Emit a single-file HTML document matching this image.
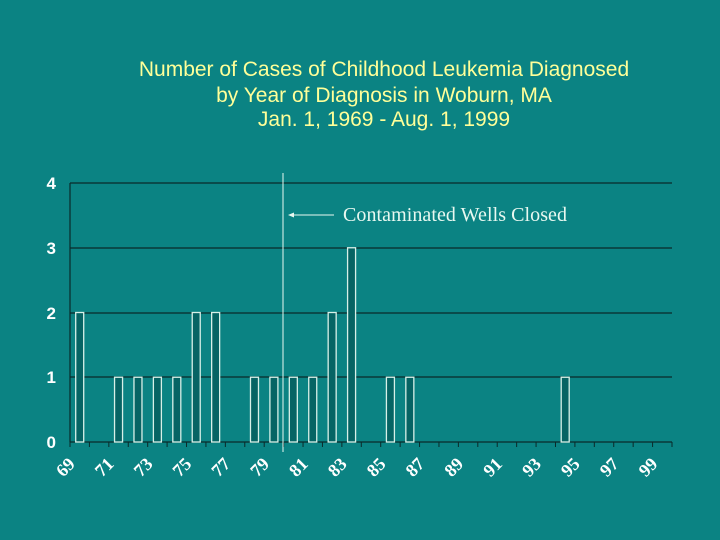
<!DOCTYPE html>
<html><head><style>
body{margin:0;background:#0b8383;}
</style></head><body>
<svg width="720" height="540" xmlns="http://www.w3.org/2000/svg" style="display:block">
<rect width="720" height="540" fill="#0b8383"/>
<g font-family="Liberation Sans, sans-serif" font-size="21" fill="#ffff99" text-anchor="middle">
<text x="384" y="76">Number of Cases of Childhood Leukemia Diagnosed</text>
<text x="384" y="102">by Year of Diagnosis in Woburn, MA</text>
<text x="384" y="126">Jan. 1, 1969 - Aug. 1, 1999</text>
</g>
<g stroke="#0a2a2a" stroke-width="1.2">
<line x1="70" y1="183" x2="672" y2="183"/>
<line x1="70" y1="248" x2="672" y2="248"/>
<line x1="70" y1="313" x2="672" y2="313"/>
<line x1="70" y1="377" x2="672" y2="377"/>
<line x1="70" y1="442" x2="672" y2="442"/>
<line x1="70" y1="183" x2="70" y2="442"/>
</g>
<g font-family="Liberation Sans, sans-serif" font-size="17" font-weight="bold" fill="#fff" text-anchor="end">
<text x="56" y="189">4</text><text x="56" y="254">3</text><text x="56" y="319">2</text><text x="56" y="383">1</text><text x="56" y="448">0</text>
</g>
<g id="bars" fill="#066464" stroke="#d8f0e8" stroke-width="1.3"></g>
<g id="ticks" stroke="#0a2a2a" stroke-width="1"></g>
<g id="labels" font-family="Liberation Serif, serif" font-size="18" font-weight="bold" fill="#fff"></g>
<line x1="283" y1="173" x2="283" y2="452" stroke="#e8f8f0" stroke-width="1"/>
<line x1="290" y1="215" x2="334" y2="215" stroke="#e8f8f0" stroke-width="1"/>
<polygon points="288,215 294,212.5 294,217.5" fill="#e8f8f0"/>
<text x="343" y="221" font-family="Liberation Serif, serif" font-size="20" fill="#e8f8f0" textLength="224">Contaminated Wells Closed</text>
</svg>
<script>
const ns="http://www.w3.org/2000/svg",w=602/31;
const data={0:2,2:1,3:1,4:1,5:1,6:2,7:2,9:1,10:1,11:1,12:1,13:2,14:3,16:1,17:1,25:1};
const b=document.getElementById('bars');
for(const k in data){const cx=70+w*(+k+0.5),h=data[k]*64.75;const r=document.createElementNS(ns,'rect');
r.setAttribute('x',cx-4);r.setAttribute('y',442-h);r.setAttribute('width',8);r.setAttribute('height',h);b.appendChild(r);}
const t=document.getElementById('ticks'),l=document.getElementById('labels');
for(let k=0;k<=31;k++){const x=70+w*k;const ln=document.createElementNS(ns,'line');
ln.setAttribute('x1',x);ln.setAttribute('x2',x);ln.setAttribute('y1',442);ln.setAttribute('y2',447);t.appendChild(ln);
if(k%2==0&&k<31){const tx=document.createElementNS(ns,'text');tx.setAttribute('text-anchor','end');
tx.setAttribute('transform',`translate(${x+6},${465}) rotate(-45)`);tx.textContent=String(69+k);l.appendChild(tx);}}
</script>
</body></html>
